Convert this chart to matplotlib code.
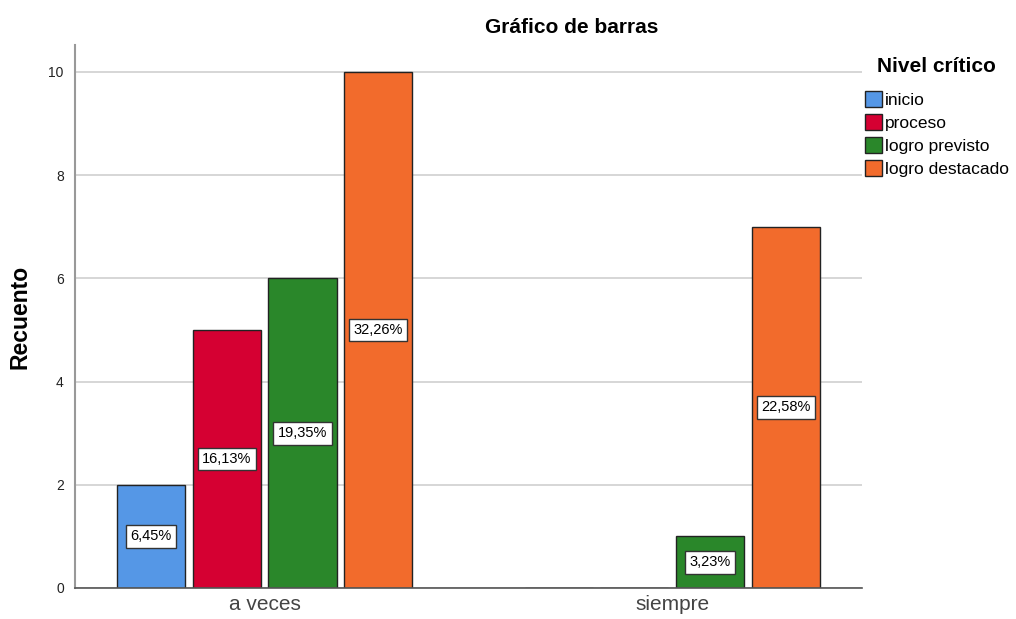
import numpy as np
import matplotlib.pyplot as plt

plt.rcParams['font.family'] = ['Liberation Sans', 'DejaVu Sans']

categories = ['a veces', 'siempre']
levels = ['inicio', 'proceso', 'logro previsto', 'logro destacado']
counts = {
    'inicio': [2, 0],
    'proceso': [5, 0],
    'logro previsto': [6, 1],
    'logro destacado': [10, 7],
}
percents = {
    'inicio': ['6,45%', None],
    'proceso': ['16,13%', None],
    'logro previsto': ['19,35%', '3,23%'],
    'logro destacado': ['32,26%', '22,58%'],
}
colors = ['#5597E6', '#D50032', '#2A872A', '#F26B2C']

fig = plt.figure(figsize=(10.16, 6.19), dpi=100)
ax = fig.add_axes([0.0738, 0.0501, 0.7746, 0.8772])

x = np.arange(len(categories))
width = 0.167
offsets = [-0.279, -0.093, 0.093, 0.279]

ax.set_axisbelow(True)
ax.yaxis.grid(True, color='#cfcfcf', linewidth=1.2)

for i, lev in enumerate(levels):
    vals = np.array(counts[lev])
    bars = ax.bar(x + offsets[i], vals, width, color=colors[i],
                  edgecolor='#222222', linewidth=1.0, label=lev)
    for b, v, p in zip(bars, vals, percents[lev]):
        if p is None or v == 0:
            continue
        ax.text(b.get_x() + b.get_width() / 2, v / 2, p, ha='center', va='center',
                fontsize=10.5, color='black',
                bbox=dict(boxstyle='square,pad=0.3', facecolor='white',
                          edgecolor='#333333', linewidth=1.0))

ax.set_xlim(-0.465, 1.465)
ax.set_ylim(0, 10.52)
ax.set_xticks(x)
ax.set_xticklabels(categories, fontsize=15, color='#444444')
ax.set_yticks([0, 2, 4, 6, 8, 10])
ax.tick_params(axis='y', labelsize=10, length=0, pad=8, colors='#222222')
ax.tick_params(axis='x', length=0, pad=5)
ax.set_ylabel('Recuento', fontsize=16.5, fontweight='bold', labelpad=12)

for s in ['top', 'right']:
    ax.spines[s].set_visible(False)
ax.spines['left'].set_color('#999999')
ax.spines['left'].set_linewidth(1.5)
ax.spines['bottom'].set_color('#555555')
ax.spines['bottom'].set_linewidth(1.2)

fig.text(0.563, 0.955, 'Gráfico de barras', ha='center', va='center',
         fontsize=15, fontweight='bold')

leg = fig.legend(loc='upper left', bbox_to_anchor=(0.851, 0.908), frameon=False,
                 title='Nivel crítico', fontsize=12.5, handlelength=1.0,
                 handleheight=1.0, handletextpad=0.15, labelspacing=0.36,
                 borderaxespad=0, borderpad=0, alignment='center')
leg.get_title().set_fontweight('bold')
leg.get_title().set_fontsize(15)
leg._legend_box.sep = 11

fig.savefig('out.png', dpi=100)
